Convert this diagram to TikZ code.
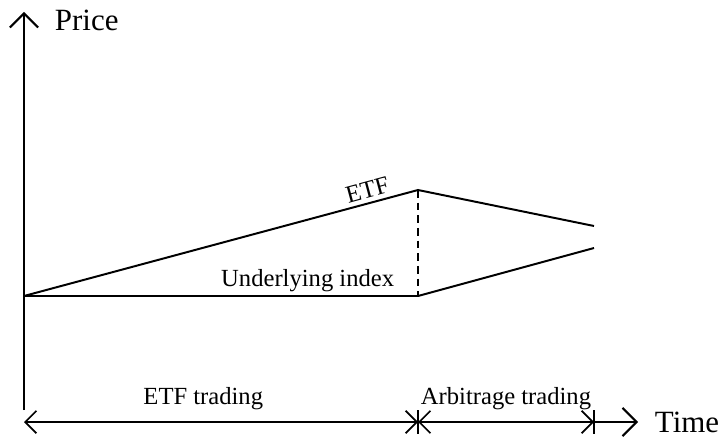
\documentclass[tikz,border=0pt]{standalone}
\usepackage{fontspec}
\setmainfont{Liberation Serif}
\usetikzlibrary{arrows.meta,calc}

\begin{document}
\begin{tikzpicture}[line/.style={color=black,line width=1.4pt},
		axis/.style={line,-{Straight Barb[length=10pt,width=20pt,line width=1.4pt]}},
		dim/.style={line,{Straight Barb[length=8pt,width=16pt,line width=1.2pt]}-{Straight Barb[length=8pt,width=16pt,line width=1.2pt]}},
		lbl/.style={font=\fontsize{17.5}{20}\selectfont,inner sep=1pt},
		big/.style={font=\fontsize{22}{25}\selectfont},
		x=0.025cm,y=-0.025cm]
		\useasboundingbox (0,0) rectangle (723,440);
		\coordinate (O) at (24,410);
		\coordinate (top) at (24,12);
		\coordinate (t0) at (24,422);
		\coordinate (t1) at (418,422);
		\coordinate (t2) at (594,422);
		\coordinate (t3) at (638,422);
		\coordinate (A) at (24,296);
		\coordinate (E) at (418,190);
		\coordinate (U) at (418,296);
		\coordinate (Ee) at (594,226);
		\coordinate (Ue) at (594,248);

		%axes
		\draw[axis] (O) -- (top);
		\node[big,anchor=west] (price) at (50,20) {Price};
		\draw[dim] (t0) -- node[lbl,pos=0.455,above=7pt] (etftr) {ETF trading} (t1);
		\draw[dim] (t1) -- node[lbl,midway,above=7pt] (arbtr) {Arbitrage trading} (t2);
		\draw[axis] (t2) -- (t3);
		\node[big,anchor=west] (time) at (650,422) {Time};
		\draw[line] ($(t1)+(0,-12)$) -- ($(t1)+(0,12)$);
		\draw[line] ($(t2)+(0,-12)$) -- ($(t2)+(0,12)$);

		%price lines
		\draw[line] (A) -- node[lbl,pos=0.88,above=2pt,sloped] (etf) {ETF} (E) -- (Ee);
		\draw[line] (A) -- node[lbl,pos=0.72,above=1pt] (index) {Underlying index} (U) -- (Ue);
		\draw[line,dash pattern=on 5.5pt off 3.5pt] (E) -- (U);
	\end{tikzpicture}
\end{document}
